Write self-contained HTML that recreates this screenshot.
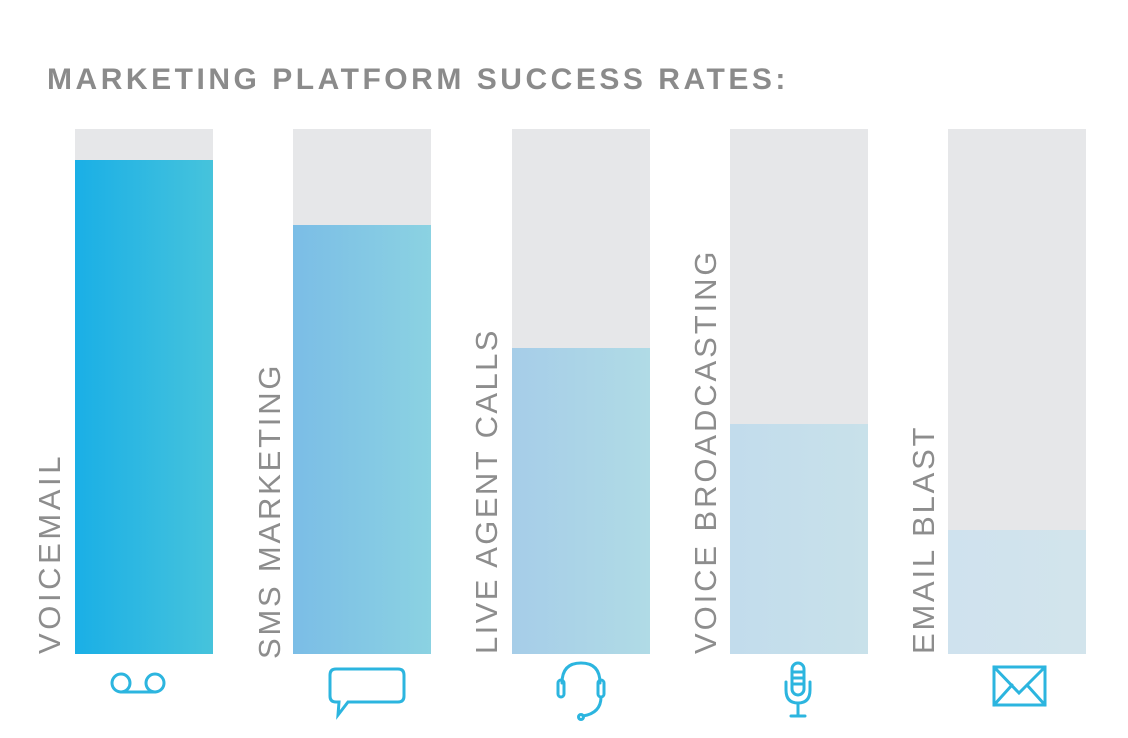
<!DOCTYPE html>
<html><head><meta charset="utf-8"><style>
body{margin:0;background:#fff;width:1128px;height:733px;overflow:hidden;font-family:"Liberation Sans",sans-serif}
</style></head><body>
<svg width="1128" height="733" xmlns="http://www.w3.org/2000/svg">
<defs>
<linearGradient id="g1" x1="0" x2="1"><stop offset="0" stop-color="#1aafe6"/><stop offset="1" stop-color="#46c3dc"/></linearGradient>
<linearGradient id="g2" x1="0" x2="1"><stop offset="0" stop-color="#7bbde6"/><stop offset="1" stop-color="#8bd2e2"/></linearGradient>
<linearGradient id="g3" x1="0" x2="1"><stop offset="0" stop-color="#a6cde8"/><stop offset="1" stop-color="#b0dbe6"/></linearGradient>
<linearGradient id="g4" x1="0" x2="1"><stop offset="0" stop-color="#c2dcec"/><stop offset="1" stop-color="#c8e1ea"/></linearGradient>
<linearGradient id="g5" x1="0" x2="1"><stop offset="0" stop-color="#cfe2ee"/><stop offset="1" stop-color="#d2e4ec"/></linearGradient>
</defs>
<text x="47" y="89" font-size="30" font-weight="bold" fill="#8b8b8b" letter-spacing="1.6" textLength="740">MARKETING PLATFORM SUCCESS RATES:</text>
<g fill="#e6e7e9">
<rect x="75" y="129" width="138" height="525"/><rect x="293" y="129" width="138" height="525"/><rect x="512" y="129" width="138" height="525"/><rect x="730" y="129" width="138" height="525"/><rect x="948" y="129" width="138" height="525"/>
</g>
<rect x="75" y="160" width="138" height="494" fill="url(#g1)"/>
<rect x="293" y="225" width="138" height="429" fill="url(#g2)"/>
<rect x="512" y="348" width="138" height="306" fill="url(#g3)"/>
<rect x="730" y="424" width="138" height="230" fill="url(#g4)"/>
<rect x="948" y="530" width="138" height="124" fill="url(#g5)"/>
<g font-size="31" fill="#8d8d8d" letter-spacing="1.5">
<text transform="translate(60,654) rotate(-90)" textLength="199">VOICEMAIL</text>
<text transform="translate(280,659) rotate(-90)" textLength="295">SMS MARKETING</text>
<text transform="translate(497,654) rotate(-90)" textLength="325">LIVE AGENT CALLS</text>
<text transform="translate(716,654) rotate(-90)" textLength="404">VOICE BROADCASTING</text>
<text transform="translate(934,654) rotate(-90)" textLength="228">EMAIL BLAST</text>
</g>
<g stroke="#2cb5df" stroke-width="3" fill="none" stroke-linecap="round">
<circle cx="121" cy="683" r="9"/><circle cx="155" cy="683" r="9"/><line x1="121" y1="692" x2="155" y2="692"/>
<path d="M336,669 H398 Q404,669 404,675 V696 Q404,702 398,702 H348 L338,715 L339,702 H336 Q330,702 330,696 V675 Q330,669 336,669 Z"/>
<path d="M562,683 Q562,663 581,663 Q600,663 600,683"/>
<rect x="558" y="680" width="6" height="17" rx="3"/><rect x="598" y="680" width="6" height="17" rx="3"/>
<path d="M601,697 Q601,713 583,716"/><circle cx="581" cy="717" r="2.5"/>
<rect x="792" y="663" width="12" height="32" rx="6"/>
<line x1="793" y1="672" x2="803" y2="672"/><line x1="793" y1="678" x2="803" y2="678"/><line x1="793" y1="684" x2="803" y2="684"/>
<path d="M786,682 V690 Q786,703 798,703 Q810,703 810,690 V682"/><line x1="798" y1="703" x2="798" y2="716"/><line x1="791" y1="716" x2="805" y2="716"/>
<rect x="994" y="667" width="51" height="38"/><path d="M994,667 L1019,693 L1045,667 M994,705 L1012,685 M1045,705 L1027,685"/>
</g>
</svg>
</body></html>
